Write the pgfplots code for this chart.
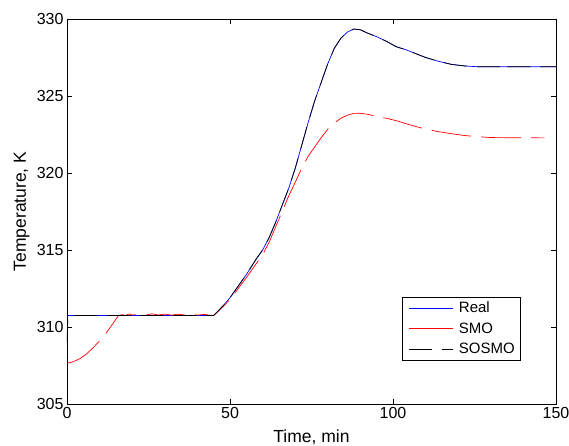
\documentclass[border=0pt]{standalone}
\usepackage{fontspec}
\setmainfont{Liberation Sans}
\usepackage{pgfplots}
\pgfplotsset{compat=1.18}
\begin{document}
\begin{tikzpicture}
\useasboundingbox (-67pt,-42pt) rectangle (502pt,404pt);
\begin{axis}[
  scale only axis, width=489pt, height=385pt,
  xmin=0, xmax=150, ymin=305, ymax=330,
  xtick={0,50,100,150}, ytick={305,310,...,330},
  tick align=inside, major tick length=5pt,
  tick style={black, line width=0.6pt},
  axis line style={line width=0.6pt},
  /pgf/number format/assume math mode=true,
  tick label style={font=\fontsize{16}{19}\selectfont},
  label style={font=\fontsize{17.5}{21}\selectfont},
  xlabel={Time, min}, ylabel={Temperature, K},
  xlabel style={at={(axis description cs:0.5,-0.099)}, anchor=base},
  ylabel style={at={(axis description cs:-0.0843,0.5)}, anchor=base},
  legend image code/.code={\draw[#1] (0pt,0pt) -- (44pt,0pt); \path (-3pt,0pt) (48pt,0pt);},
  legend style={at={(axis description cs:0.926,0.114)}, anchor=south east,
    font=\fontsize{15}{17}\selectfont, draw=black,
    row sep=4.5pt, inner xsep=3pt, inner ysep=3pt, outer sep=0pt},
  legend cell align=left,
]
% Real
\addplot[blue, line width=0.7pt] coordinates {
  (0,310.75) (45,310.75) (48,311.4) (50,311.9) (52,312.5) (55,313.4) (58,314.4)
  (60,315.0) (62,315.8) (64,316.8) (66,317.9) (68,319.0) (70,320.3) (72,321.8)
  (74,323.3) (76,324.7) (78,325.9) (80,327.1) (82,328.1) (84,328.75) (86,329.15)
  (88,329.35) (90,329.3) (92,329.1) (95,328.85) (98,328.55) (101,328.2) (104,328.0)
  (107,327.75) (110,327.5) (114,327.25) (118,327.05) (122,326.95) (126,326.9) (150,326.9)
};
\addlegendentry{Real}
% SMO
\addplot[red, line width=0.7pt, dash pattern=on 40pt off 10pt,
  legend image post style={solid}] coordinates {
  (0,307.65) (2,307.75) (4,307.95) (6,308.25) (8,308.65) (10,309.1) (12,309.6)
  (14,310.2) (15.8,310.75) (17,310.8) (18,310.75) (19,310.85) (20,310.78)
  (22,310.82) (24,310.76) (26,310.86) (28,310.78) (30,310.84) (32,310.77)
  (34,310.83) (36,310.78) (38,310.85) (40,310.77) (42,310.82) (44,310.76)
  (45,310.75) (48,311.35) (50,311.8) (52,312.35) (55,313.2) (58,314.1)
  (60,314.7) (62,315.5) (64,316.5) (66,317.5) (68,318.5) (70,319.4) (72,320.3)
  (74,321.1) (76,321.7) (78,322.3) (80,322.85) (82,323.25) (84,323.55) (86,323.75)
  (88,323.87) (90,323.88) (92,323.82) (95,323.68) (98,323.55) (101,323.4)
  (104,323.2) (107,323.02) (110,322.85) (114,322.68) (118,322.55) (122,322.43)
  (126,322.36) (130,322.3) (146.5,322.28)
};
\addlegendentry{SMO}
% SOSMO
\addplot[black, line width=0.7pt, dash pattern=on 23pt off 10pt] coordinates {
  (0,309.0) (0.3,310.75) (45,310.75) (48,311.4) (50,311.9) (52,312.5) (55,313.4) (58,314.4)
  (60,315.0) (62,315.8) (64,316.8) (66,317.9) (68,319.0) (70,320.3) (72,321.8)
  (74,323.3) (76,324.7) (78,325.9) (80,327.1) (82,328.1) (84,328.75) (86,329.15)
  (88,329.35) (90,329.3) (92,329.1) (95,328.85) (98,328.55) (101,328.2) (104,328.0)
  (107,327.75) (110,327.5) (114,327.25) (118,327.05) (122,326.95) (126,326.9)
  (133.5,326.9) (134,326.75) (134.5,326.9) (150,326.9)
};
\addlegendentry{SOSMO}
\end{axis}
\end{tikzpicture}
\end{document}
